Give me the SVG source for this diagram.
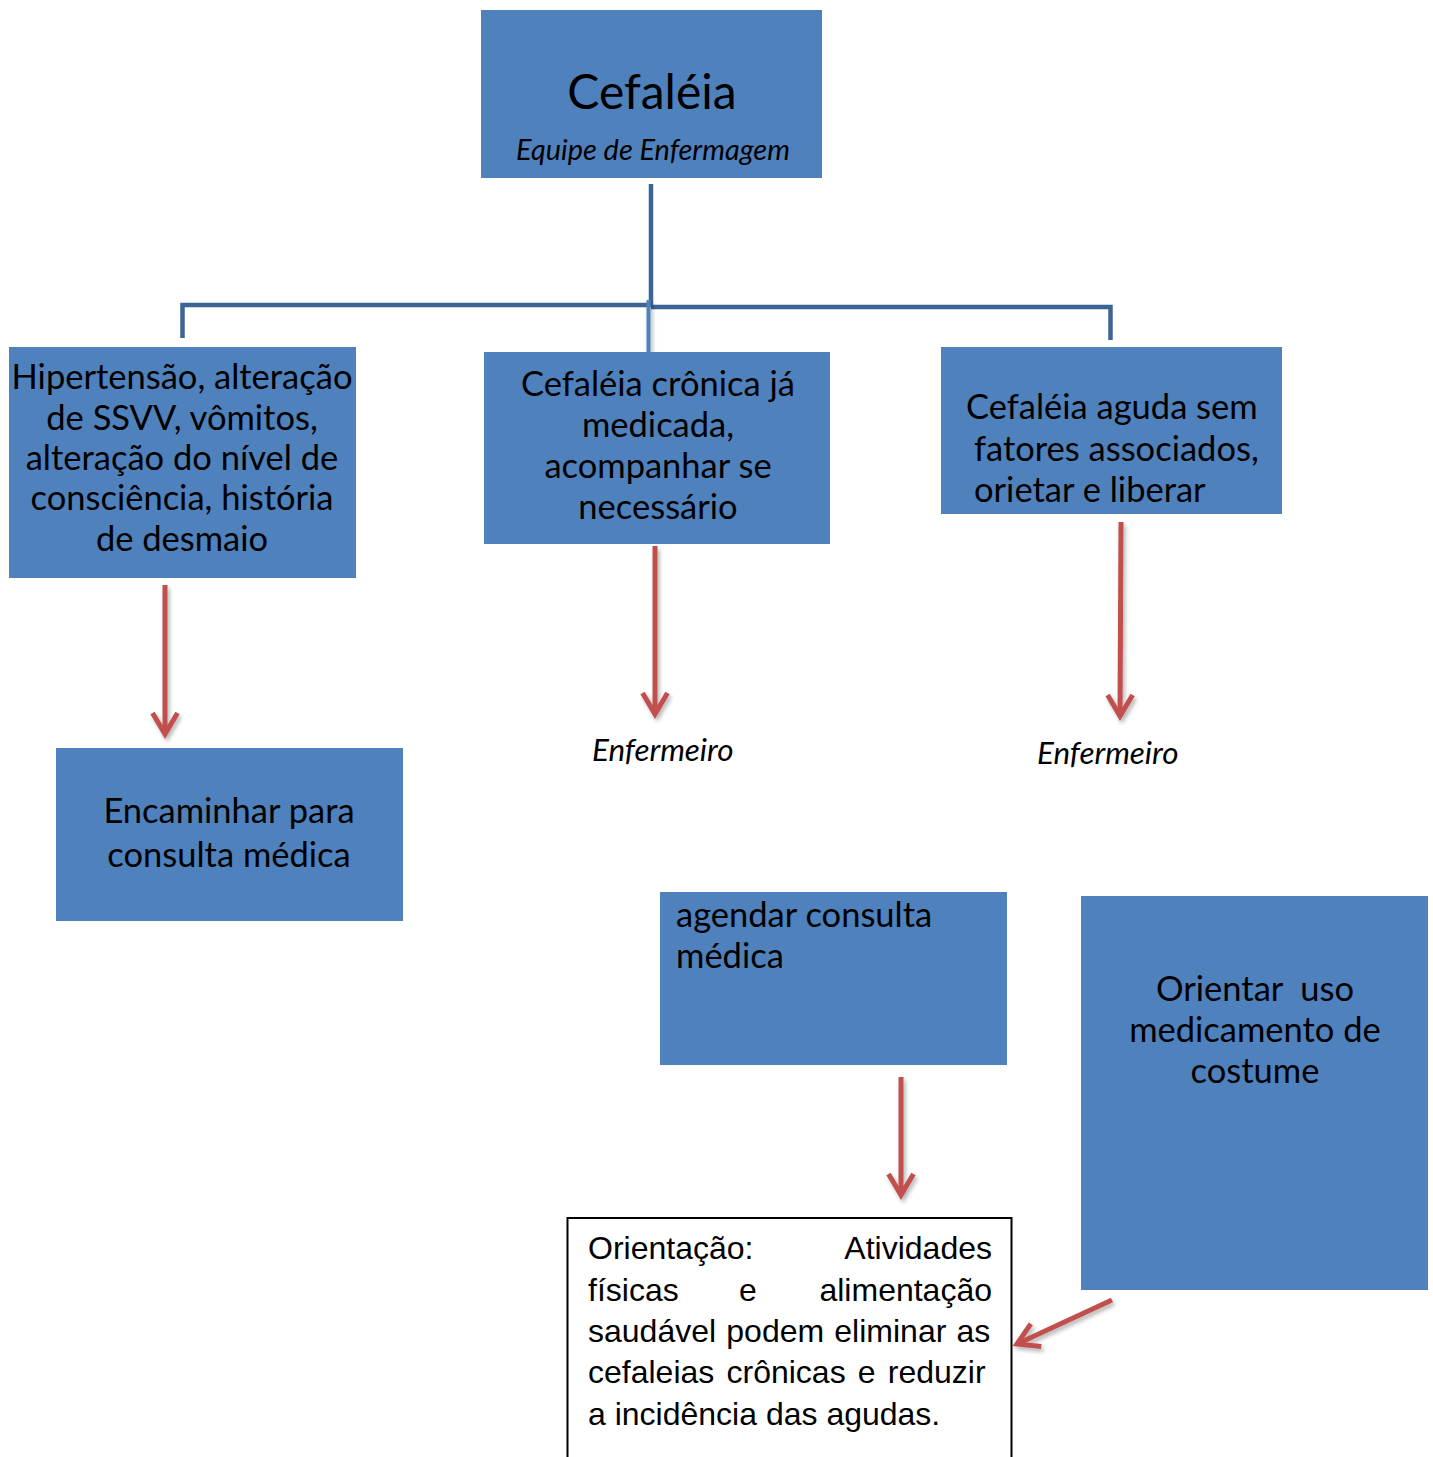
<svg xmlns="http://www.w3.org/2000/svg" width="1433" height="1457" viewBox="0 0 1433 1457">
  <style>
    .box { fill: #4F81BD; }
    .t { font-family: Lato, "Open Sans", sans-serif; fill: #000; font-size: 34.5px; }
    .c { text-anchor: middle; }
    .it { font-style: italic; }
    .title { font-size: 48px; }
    .sub { font-size: 28.9px; }
    .lbl { font-size: 31.4px; }
    .tree { stroke: #3C6595; stroke-width: 4.5; fill: none; }
    .arrow { stroke: #C0504D; stroke-width: 5; fill: none; marker-end: url(#head); filter: url(#shadow); }
    .note { font-family: "Liberation Sans", Arial, sans-serif; font-size: 32px; fill: #000; }
  </style>
  <defs>
    <marker id="head" markerUnits="userSpaceOnUse" viewBox="-30 -20 40 40" markerWidth="40" markerHeight="40" refX="0" refY="0" orient="auto" overflow="visible">
      <path d="M -21 -12.5 L 0 0 L -21 12.5" fill="none" stroke="#C0504D" stroke-width="5" stroke-linejoin="miter"/>
    </marker>
    <filter id="shadow" filterUnits="userSpaceOnUse" x="0" y="0" width="1433" height="1457">
      <feGaussianBlur in="SourceAlpha" stdDeviation="2"/>
      <feOffset dx="1.5" dy="2.5" result="b"/>
      <feComponentTransfer><feFuncA type="linear" slope="0.3"/></feComponentTransfer>
      <feMerge><feMergeNode/><feMergeNode in="SourceGraphic"/></feMerge>
    </filter>
  </defs>
  <rect width="1433" height="1457" fill="#fff"/>

  <!-- tree connectors and arrows -->
  <g id="connectors">
    <path class="tree" d="M 651 184 V 305"/>
    <path class="tree" d="M 182.5 338 V 305 H 651"/>
    <path class="tree" d="M 651 307 H 1110.5 V 340"/>
    <path d="M 648.5 300 V 356" stroke="#4F81BD" stroke-width="4" filter="url(#shadow)"/>
    <path class="arrow" d="M 165 585 V 734"/>
    <path class="arrow" d="M 655 546 V 714"/>
    <path class="arrow" d="M 1121 522 L 1120 716"/>
    <path class="arrow" d="M 901 1077 V 1195"/>
    <path class="arrow" d="M 1112 1300 L 1017 1344"/>
  </g>

  <g id="node-root">
    <rect class="box" x="481" y="10" width="341" height="168"/>
    <text class="t c title" x="652" y="109">Cefaléia</text>
    <text class="t c it sub" x="653" y="160">Equipe de Enfermagem</text>
  </g>

  <g id="node-urgent">
    <rect class="box" x="9" y="347" width="347" height="231"/>
    <text class="t c" x="182" y="389">Hipertensão, alteração</text>
    <text class="t c" x="182" y="430">de SSVV, vômitos,</text>
    <text class="t c" x="182" y="470">alteração do nível de</text>
    <text class="t c" x="182" y="510">consciência, história</text>
    <text class="t c" x="182" y="551">de desmaio</text>
  </g>

  <g id="node-chronic">
    <rect class="box" x="484" y="352" width="346" height="192"/>
    <text class="t c" x="658" y="396">Cefaléia crônica já</text>
    <text class="t c" x="658" y="437">medicada,</text>
    <text class="t c" x="658" y="478">acompanhar se</text>
    <text class="t c" x="658" y="519">necessário</text>
  </g>

  <g id="node-acute">
    <rect class="box" x="941" y="347" width="341" height="167"/>
    <text class="t" x="966" y="419">Cefaléia aguda sem</text>
    <text class="t" x="974" y="461">fatores associados,</text>
    <text class="t" x="974" y="502">orietar e liberar</text>
  </g>

  <g id="node-refer">
    <rect class="box" x="56" y="748" width="347" height="173"/>
    <text class="t c" x="229" y="823">Encaminhar para</text>
    <text class="t c" x="229" y="867">consulta médica</text>
  </g>

  <g id="label-nurse-1">
    <text class="t it lbl" x="592" y="761">Enfermeiro</text>
  </g>
  <g id="label-nurse-2">
    <text class="t it lbl" x="1037" y="764">Enfermeiro</text>
  </g>

  <g id="node-schedule">
    <rect class="box" x="660" y="892" width="347" height="173"/>
    <text class="t" x="676" y="927">agendar consulta</text>
    <text class="t" x="676" y="968">médica</text>
  </g>

  <g id="node-medication">
    <rect class="box" x="1081" y="896" width="347" height="394"/>
    <text class="t c" x="1255" y="1001" xml:space="preserve">Orientar  uso</text>
    <text class="t c" x="1255" y="1042">medicamento de</text>
    <text class="t c" x="1255" y="1083">costume</text>
  </g>

  <g id="node-guidance">
    <rect x="567.5" y="1218" width="444" height="260" fill="#fff" stroke="#000" stroke-width="2"/>
    <text class="note" x="588" y="1259">Orientação:</text>
    <text class="note" x="992" y="1259" text-anchor="end">Atividades</text>
    <text class="note" x="588" y="1301">físicas</text>
    <text class="note" x="748" y="1301" text-anchor="middle">e</text>
    <text class="note" x="992" y="1301" text-anchor="end">alimentação</text>
    <text class="note" x="588" y="1342" word-spacing="1.3">saudável podem eliminar as</text>
    <text class="note" x="588" y="1383" word-spacing="3.3">cefaleias crônicas e reduzir</text>
    <text class="note" x="588" y="1425">a incidência das agudas.</text>
  </g>
</svg>
